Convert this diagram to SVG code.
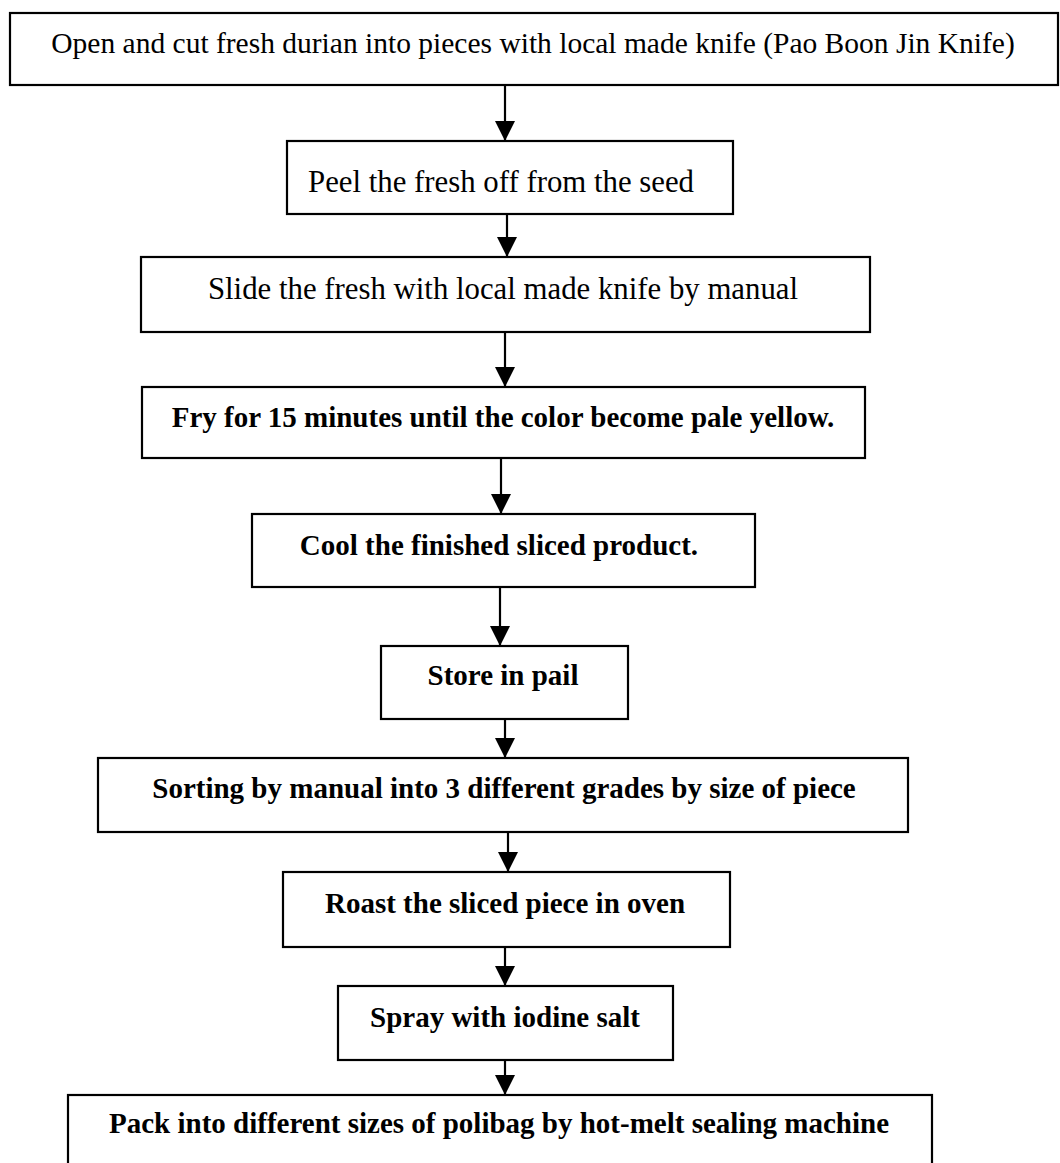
<svg xmlns="http://www.w3.org/2000/svg" width="1060" height="1163" viewBox="0 0 1060 1163">
  <style>
    .box { fill: #ffffff; stroke: #000000; stroke-width: 2.2; }
    .t { font-family: "Liberation Serif", "Times New Roman", serif; fill: #000000; text-anchor: middle; }
    .r { font-weight: normal; font-size: 30.8px; }
    .b { font-weight: bold; font-size: 29px; }
    .conn { stroke: #000000; stroke-width: 2.2; fill: none; marker-end: url(#arrow); }
  </style>
  <defs>
    <marker id="arrow" markerUnits="userSpaceOnUse" viewBox="0 0 20 20" markerWidth="20" markerHeight="20" refX="20" refY="10" orient="auto">
      <path d="M0,0 L20,10 L0,20 Z" fill="#000000"/>
    </marker>
  </defs>
  <rect width="1060" height="1163" fill="#ffffff"/>

  <g id="connectors">
    <line class="conn" x1="505" y1="85" x2="505" y2="141"/>
    <line class="conn" x1="507" y1="214" x2="507" y2="257"/>
    <line class="conn" x1="505" y1="332" x2="505" y2="387"/>
    <line class="conn" x1="501" y1="458" x2="501" y2="514"/>
    <line class="conn" x1="500" y1="587" x2="500" y2="646"/>
    <line class="conn" x1="505" y1="719" x2="505" y2="758"/>
    <line class="conn" x1="508" y1="832" x2="508" y2="872"/>
    <line class="conn" x1="505" y1="947" x2="505" y2="986"/>
    <line class="conn" x1="505" y1="1060" x2="505" y2="1095"/>
  </g>

  <g id="n1">
    <rect class="box" x="10" y="13" width="1048" height="72"/>
    <text class="t" x="533" y="53" style="font-size:29.5px">Open and cut fresh durian into pieces with local made knife (Pao Boon Jin Knife)</text>
  </g>
  <g id="n2">
    <rect class="box" x="287" y="141" width="446" height="73"/>
    <text class="t r" x="501" y="192">Peel the fresh off from the seed</text>
  </g>
  <g id="n3">
    <rect class="box" x="141" y="257" width="729" height="75"/>
    <text class="t r" x="503" y="299">Slide the fresh with local made knife by manual</text>
  </g>
  <g id="n4">
    <rect class="box" x="142" y="387" width="723" height="71"/>
    <text class="t b" x="503" y="427">Fry for 15 minutes until the color become pale yellow.</text>
  </g>
  <g id="n5">
    <rect class="box" x="252" y="514" width="503" height="73"/>
    <text class="t b" x="499" y="555">Cool the finished sliced product.</text>
  </g>
  <g id="n6">
    <rect class="box" x="381" y="646" width="247" height="73"/>
    <text class="t b" x="503" y="685">Store in pail</text>
  </g>
  <g id="n7">
    <rect class="box" x="98" y="758" width="810" height="74"/>
    <text class="t b" x="504" y="798">Sorting by manual into 3 different grades by size of piece</text>
  </g>
  <g id="n8">
    <rect class="box" x="283" y="872" width="447" height="75"/>
    <text class="t b" x="505" y="913">Roast the sliced piece in oven</text>
  </g>
  <g id="n9">
    <rect class="box" x="338" y="986" width="335" height="74"/>
    <text class="t b" x="505" y="1027">Spray with iodine salt</text>
  </g>
  <g id="n10">
    <rect class="box" x="68" y="1095" width="864" height="80"/>
    <text class="t b" x="499" y="1133">Pack into different sizes of polibag by hot-melt sealing machine</text>
  </g>
</svg>
